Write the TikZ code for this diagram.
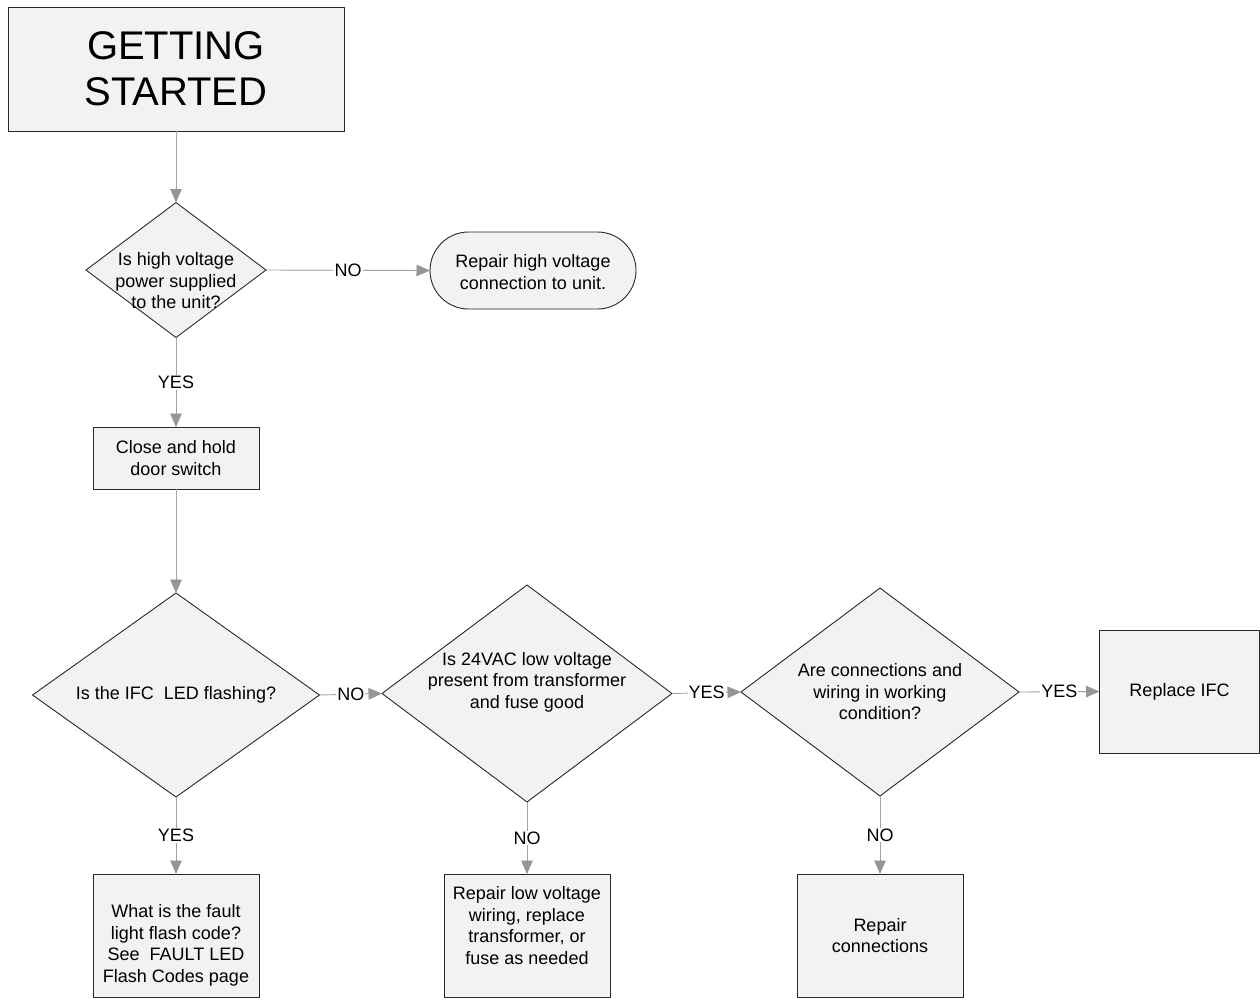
\documentclass[tikz,border=0pt]{standalone}
\usepackage{fontspec}
\setmainfont{Liberation Sans}
\usetikzlibrary{shapes.geometric,shapes.misc,arrows.meta}
\definecolor{boxfill}{RGB}{242,242,242}
\definecolor{edgecol}{RGB}{162,162,162}
\definecolor{tipcol}{RGB}{150,150,150}
\definecolor{bordercol}{RGB}{40,40,40}
\begin{document}
\begin{tikzpicture}[x=1pt,y=-1pt,
  base/.style={draw=bordercol,fill=boxfill,line width=0.9pt,inner sep=0pt,outer sep=0pt},
  procbox/.style={base,rectangle,minimum width=166pt,minimum height=123pt},
  decision/.style={base,diamond},
  txt/.style={font=\fontsize{18}{21.5}\selectfont,align=center,inner sep=0pt},
  flow/.style={draw=edgecol,line width=0.9pt,-{Triangle[length=13.5pt,width=11.5pt,color=tipcol]}},
  lbl/.style={font=\fontsize{18}{21.5}\selectfont,fill=white,inner sep=1pt}]
\path[use as bounding box,fill=white] (0,0) rectangle (1260,999);

% nodes
\node[base,rectangle,minimum width=336pt,minimum height=124pt,
      font=\fontsize{40}{46}\selectfont,align=center] (start) at (176,69) {GETTING\\STARTED};

\node[decision,minimum width=180pt,minimum height=135pt] (d1) at (176,270) {};
\node[txt] (t1) at (176,281) {Is high voltage\\power supplied\\to the unit?};

\node[base,rounded rectangle,minimum width=206pt,minimum height=77pt] (term) at (533,270.5) {};
\node[txt] (tterm) at (533,272) {Repair high voltage\\connection to unit.};

\node[base,rectangle,minimum width=166pt,minimum height=62pt,txt] (close) at (176,458) {Close and hold\\door switch};

\node[decision,minimum width=287pt,minimum height=204pt] (d2) at (176,695) {};
\node[txt] (t2) at (176,695) {Is the IFC\ \ LED flashing?};

\node[decision,minimum width=290pt,minimum height=217pt] (d3) at (527,693.5) {};
\node[txt] (t3) at (527,682) {Is 24VAC low voltage\\present from transformer\\and fuse good};

\node[decision,minimum width=278pt,minimum height=208pt] (d4) at (880,692) {};
\node[txt] (t4) at (880,692) {Are connections and\\wiring in working\\condition?};

\node[procbox,minimum width=160pt,txt] (rifc) at (1179.5,691.5) {Replace IFC};

\node[procbox] (b1) at (176,935.5) {};
\node[txt] (tb1) at (176,945.5) {What is the fault\\light flash code?\\See\ \ FAULT LED\\Flash Codes page};

\node[procbox] (b2) at (527,935.5) {};
\node[txt] (tb2) at (527,925.5) {Repair low voltage\\wiring, replace\\transformer, or\\fuse as needed};

\node[procbox,txt] (b3) at (880,935.5) {Repair\\connections};

% connectors
\draw[flow] (start.south) -- (d1.north);
\draw[flow] (d1.east) -- node[lbl] {NO} (term.west);
\draw[flow] (d1.south) -- node[lbl] {YES} (close.north);
\draw[flow] (close.south) -- (d2.north);
\draw[flow] (d2.east) -- node[lbl] {NO} (d3.west);
\draw[flow] (d3.east) -- node[lbl] {YES} (d4.west);
\draw[flow] (d4.east) -- node[lbl] {YES} (rifc.west);
\draw[flow] (d2.south) -- node[lbl] {YES} (b1.north);
\draw[flow] (d3.south) -- node[lbl] {NO} (b2.north);
\draw[flow] (d4.south) -- node[lbl] {NO} (b3.north);
\end{tikzpicture}
\end{document}
